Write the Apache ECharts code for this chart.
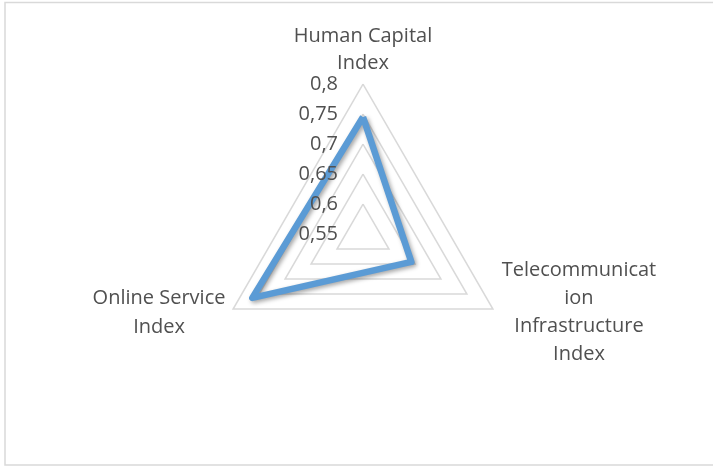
<!DOCTYPE html>
<html>
<head>
<meta charset="utf-8">
<script src="https://cdn.jsdelivr.net/npm/echarts@6/dist/echarts.min.js"></script>
<style>
html,body{margin:0;padding:0;background:#fff;}
#c{width:713px;height:466px;}
</style>
</head>
<body>
<div id="c"></div>
<script>
// Indicators in ECharts' counter-clockwise order (top, bottom-left, bottom-right)
var indicatorNames = ['Human Capital\nIndex', 'Online Service\nIndex', 'Telecommunicat\nion\nInfrastructure\nIndex'];
var seriesValues = [0.745, 0.763, 0.643];
var axisMin = 0.55;
var axisMax = 0.8;
var axisStep = 0.05;

var FONT = '"Open Sans", "Noto Sans", sans-serif';
var TXT = '#505050';
var cx = 363, cy = 234, R = 150;

function fmt(v) { return String(+Number(v).toFixed(2)).replace('.', ','); }

var blockWidths = [150, 136, 160];
var lineHeights = [27, 29, 28];

var rich = {};
indicatorNames.forEach(function (n, i) {
  rich['l' + i] = {width: blockWidths[i], align: 'center', color: TXT, fontFamily: FONT, fontSize: 20, lineHeight: lineHeights[i]};
});

var chart = echarts.init(document.getElementById('c'), null, {renderer: 'canvas'});
chart.setOption({
  animation: false,
  backgroundColor: '#fff',
  graphic: [{
    type: 'rect', silent: true,
    shape: {x: 5, y: 2.5, width: 720, height: 462.5},
    style: {fill: 'none', stroke: '#d9d9d9', lineWidth: 1.5}
  }],
  grid: {left: cx - 17, top: cy - R, width: 10, height: R},
  xAxis: {type: 'value', show: false},
  yAxis: {
    type: 'value', min: axisMin, max: axisMax, interval: axisStep, z: 5,
    axisLine: {show: false}, axisTick: {show: false}, splitLine: {show: false},
    axisLabel: {margin: 8, color: TXT, fontFamily: FONT, fontSize: 20, formatter: fmt}
  },
  radar: {
    center: [cx, cy], radius: R, startAngle: 90, shape: 'polygon', splitNumber: 5,
    indicator: indicatorNames.map(function (n) { return {name: n, min: axisMin, max: axisMax}; }),
    nameGap: 7,
    axisName: {
      color: TXT, fontFamily: FONT, fontSize: 20,
      formatter: function (name) {
        var i = indicatorNames.indexOf(name);
        return name.split('\n').map(function (l) { return '{l' + i + '|' + l + '}'; }).join('\n');
      },
      rich: rich
    },
    axisLine: {show: false},
    axisTick: {show: false},
    axisLabel: {show: false},
    splitArea: {show: false},
    splitLine: {lineStyle: {color: '#d9d9d9', width: 1.5}}
  },
  series: [{
    type: 'radar',
    symbol: 'none',
    z: 2,
    data: [{value: seriesValues}],
    lineStyle: {
      color: '#5B9BD5', width: 6.5, join: 'round',
      shadowColor: 'rgba(0,0,0,0.35)', shadowBlur: 4, shadowOffsetX: 2, shadowOffsetY: 2
    }
  }]
});
</script>
</body>
</html>
